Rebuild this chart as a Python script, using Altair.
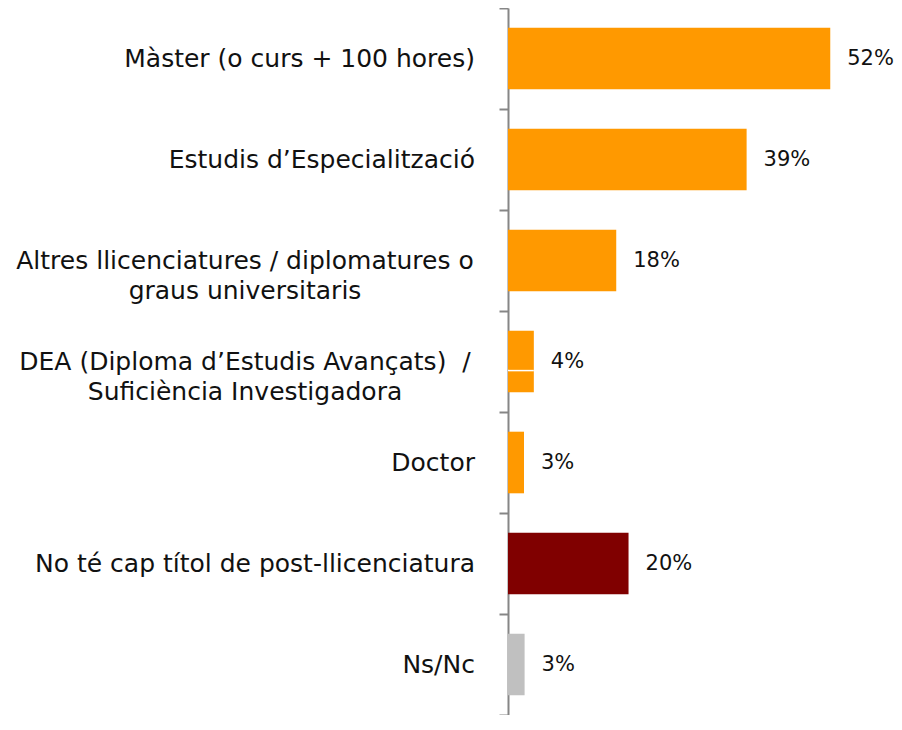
import altair as alt
import pandas as pd

categories = [
    "Màster (o curs + 100 hores)\u00a0",
    "Estudis d\u2019Especialització",
    "Altres llicenciatures / diplomatures o\ngraus universitaris",
    "DEA (Diploma d\u2019Estudis Avançats)\u00a0 /\nSuficiència Investigadora",
    "Doctor",
    "No té cap títol de post-llicenciatura",
    "Ns/Nc",
]
values = [52.4, 38.8, 17.6, 4.2, 2.6, 19.6, 2.7]
groups = ["titol", "titol", "titol", "titol", "titol", "cap", "nsnc"]
multiline = [False, False, True, True, False, False, False]

df = pd.DataFrame({"category": categories, "value": values, "group": groups, "multi": multiline})

FONT = "DejaVu Sans"
FS = 25
FS_VAL = 21
AXIS_GRAY = "#868686"
TEXT = "#111111"

y_scale = alt.Scale(paddingInner=0, paddingOuter=0)
y_enc = alt.Y(
    "category:N",
    sort=categories,
    scale=y_scale,
    axis=alt.Axis(
        labels=False, title=None, domainColor=AXIS_GRAY, domainWidth=2,
        tickColor=AXIS_GRAY, tickWidth=2, tickSize=9, tickBand="extent",
    ),
)
x_scale = alt.Scale(domain=[0, 60], nice=False, zero=True)

base = alt.Chart(df)

bars = base.mark_bar(height=alt.RelativeBandSize(0.61)).encode(
    x=alt.X("value:Q", scale=x_scale, axis=None),
    y=y_enc,
    color=alt.Color(
        "group:N",
        scale=alt.Scale(domain=["titol", "cap", "nsnc"], range=["#FF9900", "#800000", "#C0C0C0"]),
        legend=None,
    ),
)

divider = base.transform_filter("datum.category == '%s'" % categories[3].replace("\n", "\\n")).transform_calculate(
    zero="0"
).mark_rule(color="white", strokeWidth=1.5).encode(
    x=alt.X("zero:Q", scale=x_scale),
    x2="value:Q",
    y=alt.Y("category:N", sort=categories, bandPosition=0.59),
)

value_labels = base.transform_calculate(pct="format(datum.value, '.0f') + '%'").mark_text(
    align="left", baseline="middle", dx=17, font=FONT, fontSize=FS_VAL, color=TEXT
).encode(
    x=alt.X("value:Q", scale=x_scale),
    y=alt.Y("category:N", sort=categories),
    text=alt.Text("pct:N"),
)

single_labels = base.transform_filter("!datum.multi").mark_text(
    align="right", baseline="middle", dx=-33, font=FONT, fontSize=FS, color=TEXT
).encode(
    x=alt.value(0),
    y=alt.Y("category:N", sort=categories),
    text="category:N",
)

multi_labels = base.transform_filter("datum.multi").mark_text(
    align="center", baseline="middle", dx=-263, font=FONT, fontSize=FS, color=TEXT,
    lineBreak="\n", lineHeight=30,
).encode(
    x=alt.value(0),
    y=alt.Y("category:N", sort=categories),
    text="category:N",
)

chart = alt.layer(bars, divider, value_labels, single_labels, multi_labels).properties(
    width=369, height=707,
    autosize=alt.AutoSizeParams(type="none"),
    padding={"left": 500, "top": 0, "right": 17, "bottom": 0},
).configure_view(stroke=None)

chart.save("out.html", embed_options={"renderer": "svg", "actions": False})
